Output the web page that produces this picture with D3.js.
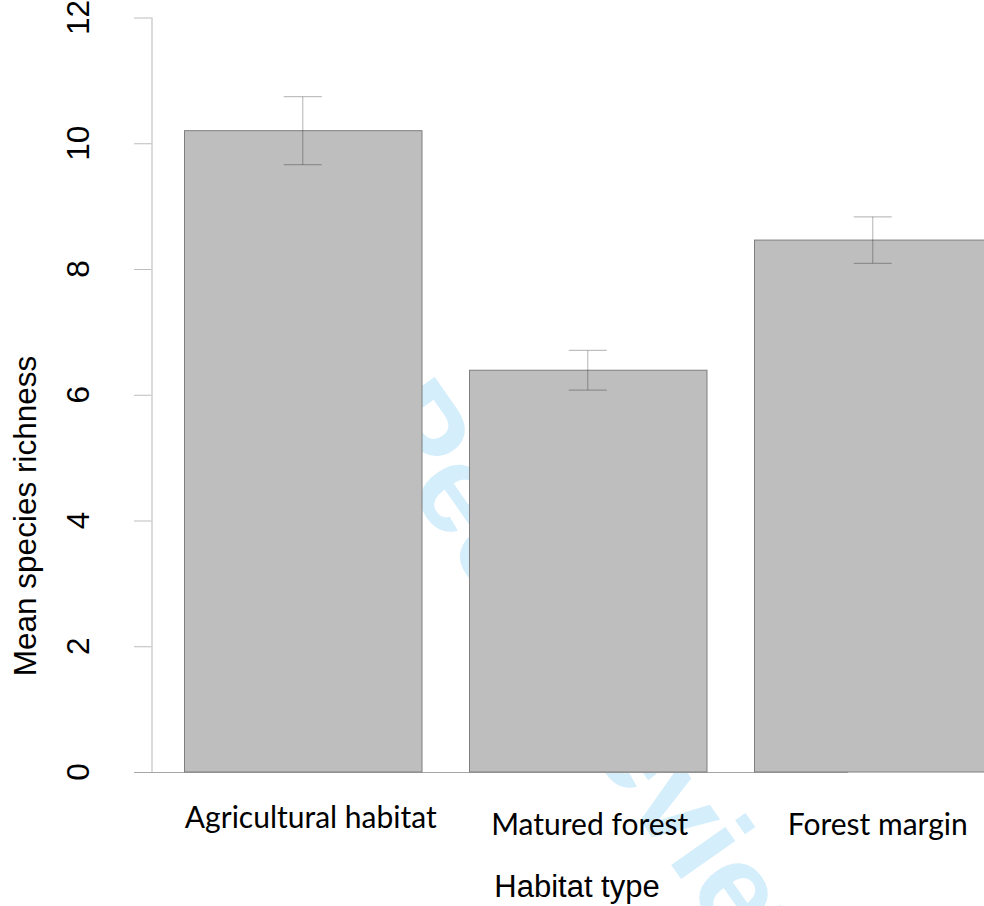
<!DOCTYPE html>
<html>
<head>
<meta charset="utf-8">
<script src="https://cdn.jsdelivr.net/npm/d3@7"></script>
<style>
    body { margin: 0; background: #fff; overflow: hidden; }
    svg { display: block; }
</style>
</head>
<body>
<div id="chart"></div>
<script>
// data
const habitats = ['Agricultural habitat', 'Matured forest', 'Forest margin'];
const meanRichness = [10.2, 6.39, 8.46];
const stdError = [0.54, 0.315, 0.37];
const yTicks = [0, 2, 4, 6, 8, 10, 12];

const width = 984, height = 906;

const svg = d3.select('#chart').append('svg')
    .attr('width', width)
    .attr('height', height);

const yScale = d3.scaleLinear().domain([0, 12]).range([772, 17.5]);
const xScale = d3.scaleBand().domain(habitats)
    .range([184, 991.5])
    .paddingInner(1 / 6)
    .paddingOuter(0);

// watermark, sits behind the bars
svg.append('text')
    .text('For Peer Review')
    .attr('transform', 'translate(224,226) rotate(55)')
    .style('font-family', '"Liberation Sans", Arial, sans-serif')
    .style('font-weight', 'bold')
    .style('font-size', '125px')
    .style('fill', '#d4eefb');

// y axis
const yAxis = svg.append('g')
    .attr('class', 'axis axis--y')
    .attr('transform', 'translate(152,0)')
    .call(d3.axisLeft(yScale).tickValues(yTicks).tickSize(18).tickFormat(''));
yAxis.select('.domain').remove();
yAxis.selectAll('.tick line').attr('stroke', '#bdbdbd');
yAxis.append('line')
    .attr('x1', 0).attr('x2', 0)
    .attr('y1', yScale(12)).attr('y2', yScale(0))
    .attr('stroke', '#d2d2d2')
    .attr('stroke-width', 1.6);

svg.append('g').selectAll('text')
    .data(yTicks)
    .enter().append('text')
    .attr('transform', function(d) { return 'translate(89,' + yScale(d) + ') rotate(-90)'; })
    .style('text-anchor', 'middle')
    .style('font-family', '"Liberation Sans", Arial, sans-serif')
    .style('font-size', '31.5px')
    .style('fill', '#000')
    .text(function(d) { return d; });

// baseline
svg.append('line')
    .attr('x1', 134).attr('x2', 848)
    .attr('y1', yScale(0) + 0.5).attr('y2', yScale(0) + 0.5)
    .attr('stroke', '#a6a6a6');

// bars
svg.append('g').selectAll('rect')
    .data(habitats)
    .enter().append('rect')
    .attr('x', function(d) { return xScale(d) + 0.5; })
    .attr('y', function(d, i) { return yScale(meanRichness[i]); })
    .attr('width', xScale.bandwidth())
    .attr('height', function(d, i) { return yScale(0) - yScale(meanRichness[i]); })
    .style('fill', '#bebebe')
    .style('stroke', '#7f7f7f')
    .style('stroke-width', 1);

// error bars
const capHalf = 19;
const err = svg.append('g').selectAll('g')
    .data(habitats)
    .enter().append('g')
    .attr('transform', function(d) { return 'translate(' + (xScale(d) + xScale.bandwidth() / 2) + ',0)'; })
    .style('stroke', '#000')
    .style('stroke-opacity', 0.25)
    .style('stroke-width', 1.2);
err.append('line')
    .attr('x1', 0).attr('x2', 0)
    .attr('y1', function(d, i) { return yScale(meanRichness[i] + stdError[i]); })
    .attr('y2', function(d, i) { return yScale(meanRichness[i] - stdError[i]); });
err.append('line')
    .attr('x1', -capHalf).attr('x2', capHalf)
    .attr('y1', function(d, i) { return yScale(meanRichness[i] + stdError[i]); })
    .attr('y2', function(d, i) { return yScale(meanRichness[i] + stdError[i]); });
err.append('line')
    .attr('x1', -capHalf).attr('x2', capHalf)
    .attr('y1', function(d, i) { return yScale(meanRichness[i] - stdError[i]); })
    .attr('y2', function(d, i) { return yScale(meanRichness[i] - stdError[i]); });

// category labels (first one sits a little higher in the original)
const labelDx = [8, 2, 5];
const labelY = [828, 835, 835];
svg.append('g').selectAll('text')
    .data(habitats)
    .enter().append('text')
    .attr('x', function(d, i) { return xScale(d) + xScale.bandwidth() / 2 + labelDx[i]; })
    .attr('y', function(d, i) { return labelY[i]; })
    .style('text-anchor', 'middle')
    .style('font-family', 'Lato, "Open Sans", sans-serif')
    .style('font-size', '30px')
    .style('fill', '#000')
    .text(function(d) { return d; });

// axis titles
svg.append('text')
    .attr('x', 577).attr('y', 897)
    .style('text-anchor', 'middle')
    .style('font-family', '"Liberation Sans", Arial, sans-serif')
    .style('font-size', '31px')
    .text('Habitat type');

svg.append('text')
    .attr('transform', 'translate(36,516) rotate(-90)')
    .style('text-anchor', 'middle')
    .style('font-family', '"Liberation Sans", Arial, sans-serif')
    .style('font-size', '31.5px')
    .text('Mean species richness');
</script>
</body>
</html>
